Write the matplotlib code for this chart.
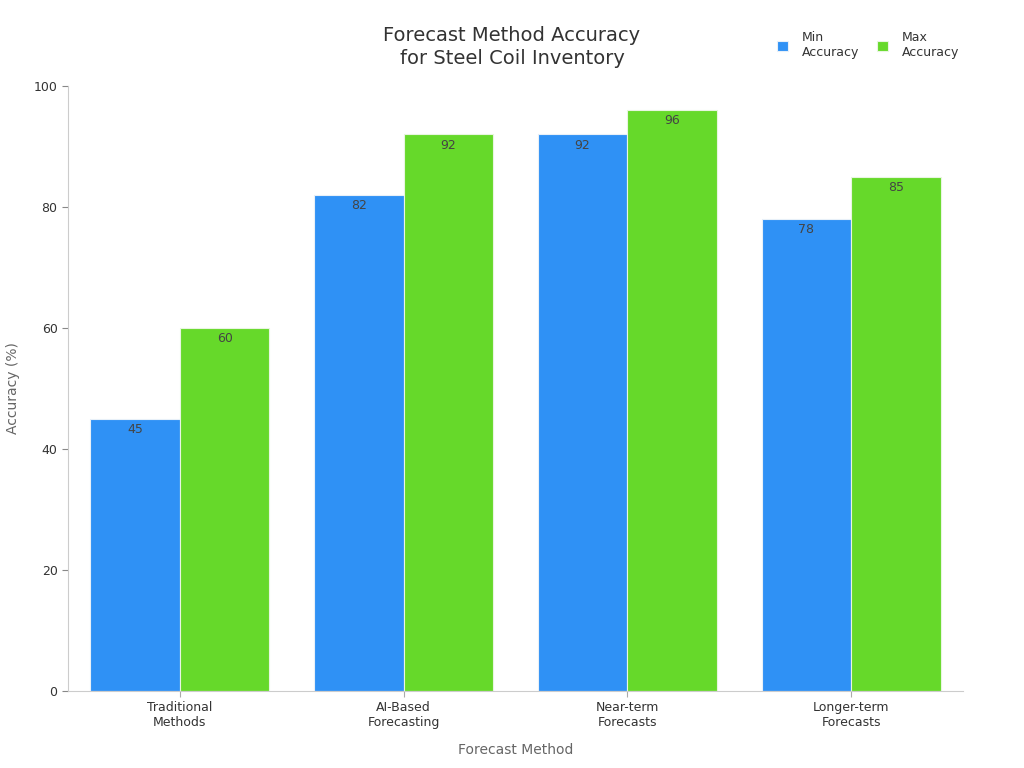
import matplotlib
matplotlib.use("Agg")
import matplotlib.pyplot as plt
import numpy as np

plt.rcParams['font.family'] = ['DejaVu Sans']

categories = ["Traditional\nMethods", "AI-Based\nForecasting", "Near-term\nForecasts", "Longer-term\nForecasts"]
min_acc = [45, 82, 92, 78]
max_acc = [60, 92, 96, 85]
yticks = [0, 20, 40, 60, 80, 100]

blue = "#2f91f5"
green = "#66d92a"
text_col = "#333333"

fig = plt.figure(figsize=(10.24, 7.68), dpi=100)
ax = fig.add_axes([0.0664, 0.1003, 0.874, 0.7877])

x = np.arange(len(categories))
w = 0.4
b1 = ax.bar(x - w / 2, min_acc, w, color=blue, edgecolor="#e8f0f8", linewidth=0.8, label="Min\nAccuracy")
b2 = ax.bar(x + w / 2, max_acc, w, color=green, edgecolor="#e8f5e0", linewidth=0.8, label="Max\nAccuracy")

for bars in (b1, b2):
    for r in bars:
        ax.annotate(f"{r.get_height():g}", (r.get_x() + r.get_width() / 2, r.get_height()),
                    xytext=(0, -3), textcoords="offset points", ha="center", va="top",
                    fontsize=9, color="#444444")

ax.set_xlim(-0.5, 3.5)
ax.set_ylim(0, 100)
ax.set_yticks(yticks)
ax.set_xticks(x)
ax.set_xticklabels(categories, fontsize=9, color=text_col)
ax.tick_params(axis="y", labelsize=9, labelcolor=text_col, color="#888888", length=4)
ax.tick_params(axis="x", color="#aaaaaa", length=4)

for s in ("top", "right"):
    ax.spines[s].set_visible(False)
for s in ("left", "bottom"):
    ax.spines[s].set_color("#cccccc")

ax.set_xlabel("Forecast Method", fontsize=10, color="#666666", labelpad=10)
ax.set_ylabel("Accuracy (%)", fontsize=10, color="#666666", labelpad=10)

fig.text(0.5, 0.939, "Forecast Method Accuracy\nfor Steel Coil Inventory", ha="center", va="center",
         fontsize=14, color=text_col, linespacing=1.3)

leg = fig.legend(handles=[b1, b2], loc="upper right", bbox_to_anchor=(0.948, 0.974), ncol=2,
                 frameon=False, fontsize=9, handlelength=0.9, handleheight=0.9,
                 columnspacing=1.45, handletextpad=1.1)
for t in leg.get_texts():
    t.set_color(text_col)

fig.savefig("out.png", dpi=100)
